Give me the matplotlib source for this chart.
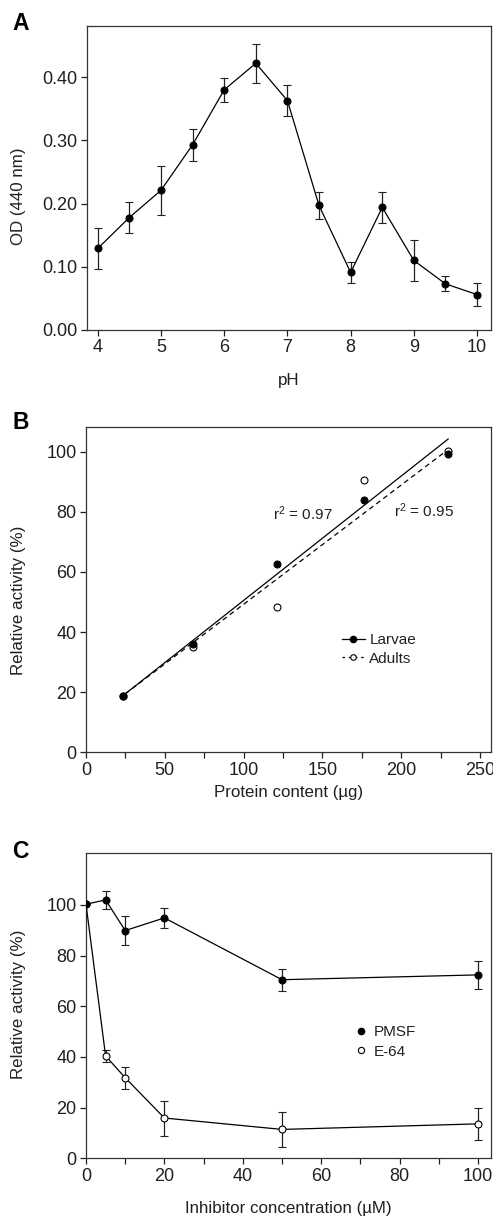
import matplotlib
matplotlib.use('Agg')
import matplotlib.pyplot as plt
from matplotlib.lines import Line2D

# Panel A - pH profile
ph = [4, 4.5, 5, 5.5, 6, 6.5, 7, 7.5, 8, 8.5, 9, 9.5, 10]
od = [0.129, 0.178, 0.221, 0.293, 0.380, 0.422, 0.363, 0.197, 0.091, 0.194, 0.110, 0.073, 0.056]
od_err = [0.033, 0.025, 0.039, 0.025, 0.019, 0.031, 0.024, 0.021, 0.017, 0.025, 0.032, 0.012, 0.018]

# Panel B - protein content
protein = [23.3, 67.6, 120.9, 176.2, 229.4]
larvae = [18.7, 35.9, 62.5, 83.9, 99.1]
adults = [18.7, 35.0, 48.2, 90.5, 100.3]
larvae_fit_x = [24.8, 229.8]
larvae_fit_y = [19.4, 104.2]
adults_fit_x = [24.8, 227.5]
adults_fit_y = [19.4, 99.8]
r2_larvae = 0.97
r2_adults = 0.95

# Panel C - inhibitors
conc = [0, 5, 10, 20, 50, 100]
pmsf = [100.3, 102.0, 89.9, 94.9, 70.5, 72.4]
pmsf_err = [0.0, 3.4, 5.7, 3.9, 4.3, 5.6]
e64 = [100.3, 40.4, 31.8, 15.9, 11.4, 13.6]
e64_err = [0.0, 2.4, 4.3, 6.9, 7.0, 6.2]

txt = '#231f20'
plt.rcParams['font.family'] = ['Liberation Sans', 'DejaVu Sans']
plt.rcParams['mathtext.fontset'] = 'custom'
plt.rcParams['mathtext.rm'] = 'Liberation Sans'
plt.rcParams['mathtext.it'] = 'Liberation Sans'
plt.rcParams['mathtext.default'] = 'regular'
plt.rcParams['font.size'] = 11
plt.rcParams['axes.labelsize'] = 12.2
plt.rcParams['xtick.labelsize'] = 13
plt.rcParams['ytick.labelsize'] = 13
plt.rcParams['text.color'] = txt
plt.rcParams['axes.labelcolor'] = txt
plt.rcParams['xtick.color'] = txt
plt.rcParams['ytick.color'] = txt
plt.rcParams['axes.edgecolor'] = '#333333'
plt.rcParams['axes.linewidth'] = 0.9
plt.rcParams['xtick.major.size'] = 4.3
plt.rcParams['ytick.major.size'] = 4.3
plt.rcParams['xtick.minor.size'] = 4.3
plt.rcParams['xtick.major.pad'] = 2.5
plt.rcParams['ytick.major.pad'] = 2.5

W, H = 493, 1217
fig = plt.figure(figsize=(W / 100, H / 100), dpi=100)


def add_axes(left, top, right, bottom):
    return fig.add_axes([left / W, 1 - bottom / H, (right - left) / W, (bottom - top) / H])


def place_labels(ax, left, top, right, bottom, xlab_y, ylab_y):
    w, h = right - left, bottom - top
    ax.yaxis.set_label_coords((19 - left) / w, (bottom - ylab_y) / h)
    ax.xaxis.set_label_coords(0.5, -(xlab_y - bottom) / h)
    ax.xaxis.label.set_va('center')
    ax.yaxis.label.set_va('center')


boxA = (87, 26, 491, 330)
boxB = (86, 426.7, 491, 752.3)
boxC = (86, 853.3, 491, 1158.3)
axA = add_axes(*boxA)
axB = add_axes(*boxB)
axC = add_axes(*boxC)

mk = dict(markersize=5, markeredgewidth=0.8, markeredgecolor='black')
eb = dict(ecolor='#222222', elinewidth=0.9, capsize=2.6, capthick=0.9)

# A
axA.errorbar(ph, od, yerr=od_err, color='black', lw=0.9, marker='o',
             markerfacecolor='black', **mk, **eb)
axA.set_xlim(3.83, 10.22)
axA.set_ylim(0, 0.481)
axA.set_xticks(range(4, 11))
axA.set_yticks([0, 0.1, 0.2, 0.3, 0.4])
axA.set_yticklabels([f'{v:.2f}' for v in [0, 0.1, 0.2, 0.3, 0.4]])
axA.set_xlabel('pH')
axA.set_ylabel('OD (440 nm)')
place_labels(axA, *boxA, 380.5, 196.5)

# B
axB.plot(larvae_fit_x, larvae_fit_y, color='black', lw=0.9)
axB.plot(adults_fit_x, adults_fit_y, color='black', lw=0.9, ls=(0, (4, 3)))
axB.plot(protein, adults, 'o', markerfacecolor='white', zorder=3, **mk)
axB.plot(protein, larvae, 'o', markerfacecolor='black', zorder=3, **mk)
axB.text(118.8, 79.5, f'r$^2$ = {r2_larvae:.2f}', va='center', ha='left')
axB.text(195.5, 80.4, f'r$^2$ = {r2_adults:.2f}', va='center', ha='left')
axB.set_xlim(0, 257)
axB.set_ylim(0, 108.3)
axB.set_xticks(range(0, 251, 50))
axB.set_xticks(range(25, 251, 50), minor=True)
axB.set_yticks(range(0, 101, 20))
axB.set_xlabel('Protein content (µg)')
axB.set_ylabel('Relative activity (%)')
place_labels(axB, *boxB, 793, 600)
hB = [Line2D([], [], color='black', lw=0.9, marker='o', markersize=4.5,
             markerfacecolor='black', markeredgecolor='black'),
      Line2D([], [], color='black', lw=0.9, ls=(0, (2, 3)), marker='o', markersize=4,
             markerfacecolor='white', markeredgecolor='black', markeredgewidth=0.8)]
axB.legend(hB, ['Larvae', 'Adults'], loc='center left', bbox_to_anchor=(0.632, 0.316),
           frameon=False, borderpad=0, borderaxespad=0, handlelength=1.5,
           handletextpad=0.3, labelspacing=0.3)

# C
axC.errorbar(conc, e64, yerr=e64_err, color='black', lw=0.9, marker='o',
             markerfacecolor='white', zorder=3, **mk, **eb)
axC.errorbar(conc, pmsf, yerr=pmsf_err, color='black', lw=0.9, marker='o',
             markerfacecolor='black', zorder=4, **mk, **eb)
axC.set_xlim(0, 103.3)
axC.set_ylim(0, 120.4)
axC.set_xticks(range(0, 101, 20))
axC.set_xticks(range(10, 101, 20), minor=True)
axC.set_yticks(range(0, 101, 20))
axC.set_xlabel('Inhibitor concentration (µM)')
axC.set_ylabel('Relative activity (%)')
place_labels(axC, *boxC, 1208, 1004)
hC = [Line2D([], [], ls='none', marker='o', markersize=4.5, markerfacecolor='black',
             markeredgecolor='black'),
      Line2D([], [], ls='none', marker='o', markersize=4.5, markerfacecolor='white',
             markeredgecolor='black', markeredgewidth=0.8)]
axC.legend(hC, ['PMSF', 'E-64'], loc='center left', bbox_to_anchor=(0.664, 0.381),
           frameon=False, borderpad=0, borderaxespad=0, handlelength=0.8,
           handletextpad=0.4, labelspacing=0.35)

for ax in (axA, axB, axC):
    ax.tick_params(direction='out', width=0.9)
    ax.tick_params(which='minor', direction='out', width=0.9)

# panel letters
for letter, y in (('A', 23), ('B', 422), ('C', 851)):
    fig.text(12 / W, 1 - y / H, letter, fontsize=16.5, fontweight='bold',
             color='black', va='center', ha='left')

fig.savefig('out.png', dpi=100)
